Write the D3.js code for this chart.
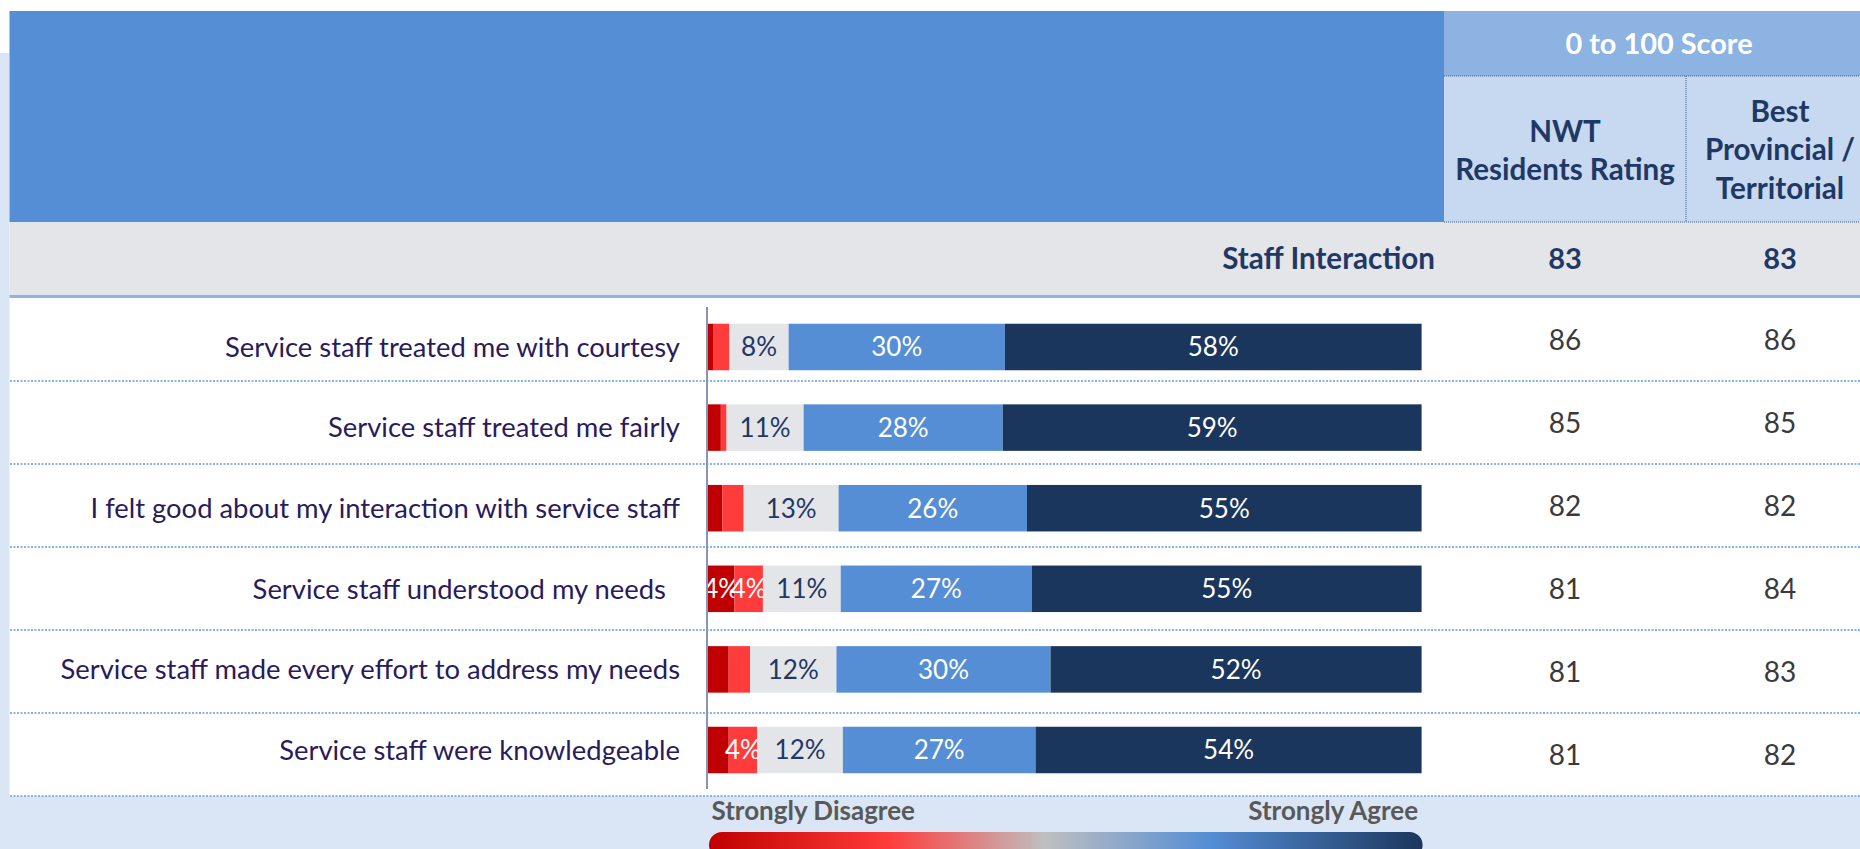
<html>
<head>
<style>
  body { margin: 0; background: #fff; }
  text { font-family: Lato, "Open Sans", sans-serif; }
  .stmt { fill: #2a1b5c; font-size: 27.4px; white-space: pre; }
  .hdr { font-weight: bold; fill: #1f3864; }
  .score { fill: #3a3a3a; font-size: 28px; }
  .seglabel { font-size: 26px; }
  .legend { fill: #595959; font-weight: bold; font-size: 26px; }
</style>
<script src="https://cdn.jsdelivr.net/npm/d3@7"></script>
</head>
<body>
<svg width="1860" height="849"></svg>
<script>
// data
const statements = [
  "Service staff treated me with courtesy",
  "Service staff treated me fairly",
  "I felt good about my interaction with service staff",
  "Service staff understood my needs  ",
  "Service staff made every effort to address my needs",
  "Service staff were knowledgeable"
];
const stronglyDisagree = [0.8, 1.8, 2.0, 3.7, 2.9, 2.9];
const disagree         = [2.2, 0.8, 3.0, 4.0, 3.0, 4.0];
const neutral          = [8.3, 10.8, 13.3, 10.9, 12.1, 12.0];
const agree            = [30.3, 27.9, 26.4, 26.8, 30.0, 27.0];
const stronglyAgree    = [58.4, 58.7, 55.3, 54.6, 52.0, 54.1];
const nwtScores  = [86, 85, 82, 81, 81, 81];
const bestScores = [86, 85, 82, 84, 83, 82];
const groupName = "Staff Interaction";
const groupNwt = 83;
const groupBest = 83;
const scaleTitle = "0 to 100 Score";
const colTitles = [["NWT", "Residents Rating"], ["Best", "Provincial /", "Territorial"]];
const legendLeft = "Strongly Disagree";
const legendRight = "Strongly Agree";

const keys = ["sd", "d", "n", "a", "sa"];
const colors = { sd: "#c00000", d: "#ff3b3b", n: "#e3e5e9", a: "#558ed5", sa: "#1b365d" };
const table = statements.map((s, i) => ({
  idx: i, stmt: s, sd: stronglyDisagree[i], d: disagree[i], n: neutral[i], a: agree[i], sa: stronglyAgree[i]
}));

const svg = d3.select("svg");
const W = 1860;

// backgrounds
svg.append("rect").attr("x", 0).attr("y", 53).attr("width", 9.5).attr("height", 796).attr("fill", "#dae6f5");
svg.append("rect").attr("x", 0).attr("y", 796).attr("width", W).attr("height", 53).attr("fill", "#dae6f5");

// header
svg.append("rect").attr("x", 9.5).attr("y", 11).attr("width", 1434.5).attr("height", 211).attr("fill", "#558ed5");
svg.append("rect").attr("x", 1444).attr("y", 11).attr("width", W - 1444).attr("height", 65).attr("fill", "#8db3e2");
svg.append("rect").attr("x", 1444).attr("y", 76).attr("width", W - 1444).attr("height", 146).attr("fill", "#c6d9f1");
svg.append("rect").attr("x", 9.5).attr("y", 222).attr("width", W - 9.5).attr("height", 73).attr("fill", "#e3e5e8");
svg.append("rect").attr("x", 9.5).attr("y", 295).attr("width", W - 9.5).attr("height", 3).attr("fill", "#8db3e2");

const hdrLines = [[1444, 76, W, 76], [1444, 222, W, 222], [1686, 76, 1686, 222]];
svg.selectAll(".hline").data(hdrLines).enter().append("line")
  .attr("x1", d => d[0]).attr("y1", d => d[1]).attr("x2", d => d[2]).attr("y2", d => d[3])
  .attr("stroke", "#3d5a8a").attr("stroke-width", 1).attr("stroke-dasharray", "1,1");

const colX = [1565, 1780];
svg.append("text").attr("x", 1659).attr("y", 54).attr("text-anchor", "middle")
  .attr("font-size", 28.9).attr("font-weight", "bold").attr("fill", "#fff").text(scaleTitle);

const colBase = [[142, 180], [122, 160, 199]];
colTitles.forEach((lines, c) => {
  lines.forEach((t, j) => {
    svg.append("text").attr("class", "hdr").attr("x", colX[c]).attr("y", colBase[c][j])
      .attr("text-anchor", "middle").attr("font-size", 29.6).text(t);
  });
});

svg.append("text").attr("class", "hdr").attr("x", 1435).attr("y", 269).attr("text-anchor", "end")
  .attr("font-size", 29.6).text(groupName);
[groupNwt, groupBest].forEach((v, c) => {
  svg.append("text").attr("class", "hdr").attr("x", colX[c]).attr("y", 269)
    .attr("text-anchor", "middle").attr("font-size", 29).text(v);
});

// scales
const rowY = d3.scaleBand().domain(d3.range(statements.length)).range([298, 796]);
const barY = d3.scaleBand().domain(d3.range(statements.length)).range([306.7, 790.3])
  .paddingInner(0.423).paddingOuter(0.2115);
const x = d3.scaleLinear().domain([0, 100]).range([708, 1421.6]);

// row separators
svg.selectAll(".sep").data(d3.range(statements.length)).enter().append("line")
  .attr("x1", 10).attr("x2", W)
  .attr("y1", i => rowY(i) + rowY.bandwidth()).attr("y2", i => rowY(i) + rowY.bandwidth())
  .attr("stroke", "#8db3e2").attr("stroke-width", 2).attr("stroke-dasharray", "2,1.5");

// statements
svg.selectAll(".stmt").data(statements).enter().append("text")
  .attr("class", "stmt").attr("x", 680).attr("y", (d, i) => barY(i) + barY.bandwidth() / 2)
  .attr("dy", "0.36em").attr("text-anchor", "end").text(d => d);

// bars
svg.append("clipPath").attr("id", "plotclip").append("rect")
  .attr("x", 708).attr("y", 290).attr("width", 720).attr("height", 510);

const series = d3.stack().keys(keys)(table);
const layer = svg.append("g").attr("clip-path", "url(#plotclip)");
const groups = layer.selectAll(".layer").data(series).enter().append("g");
groups.selectAll("rect").data(d => d.map(p => ({ p: p, key: d.key }))).enter().append("rect")
  .attr("x", d => x(d.p[0])).attr("width", d => x(d.p[1]) - x(d.p[0]))
  .attr("y", d => barY(d.p.data.idx)).attr("height", barY.bandwidth())
  .attr("fill", d => colors[d.key]);

groups.selectAll("text").data(d => d.map(p => ({ p: p, key: d.key })).filter(d => d.p[1] - d.p[0] >= 3.5))
  .enter().append("text").attr("class", "seglabel")
  .attr("x", d => (x(d.p[0]) + x(d.p[1])) / 2)
  .attr("y", d => barY(d.p.data.idx) + barY.bandwidth() / 2)
  .attr("dy", "0.36em").attr("text-anchor", "middle")
  .attr("fill", d => d.key === "n" ? "#1f3864" : "#fff")
  .text(d => Math.round(d.p[1] - d.p[0]) + "%");

// axis line
svg.append("line").attr("x1", 707).attr("x2", 707).attr("y1", 307).attr("y2", 789)
  .attr("stroke", "#8a94b4").attr("stroke-width", 2);

// scores
[nwtScores, bestScores].forEach((arr, c) => {
  svg.selectAll(".score" + c).data(arr).enter().append("text")
    .attr("class", "score").attr("x", colX[c]).attr("y", (d, i) => rowY(i) + rowY.bandwidth() / 2)
    .attr("dy", "0.36em").attr("text-anchor", "middle").text(d => d);
});

// legend
const grad = svg.append("defs").append("linearGradient").attr("id", "lg");
[["0%", "#c00000"], ["25%", "#ff3b3b"], ["47%", "#bfbfbf"], ["70%", "#558ed5"], ["100%", "#1b365d"]]
  .forEach(s => grad.append("stop").attr("offset", s[0]).attr("stop-color", s[1]));
svg.append("rect").attr("x", x(0) + 1).attr("y", 832).attr("width", x(100) - x(0)).attr("height", 26)
  .attr("rx", 13).attr("fill", "url(#lg)");
svg.append("text").attr("class", "legend").attr("x", x(0) + 3.5).attr("y", 820).text(legendLeft);
svg.append("text").attr("class", "legend").attr("x", x(100) - 3.5).attr("y", 820)
  .attr("text-anchor", "end").text(legendRight);
</script>
</body>
</html>
